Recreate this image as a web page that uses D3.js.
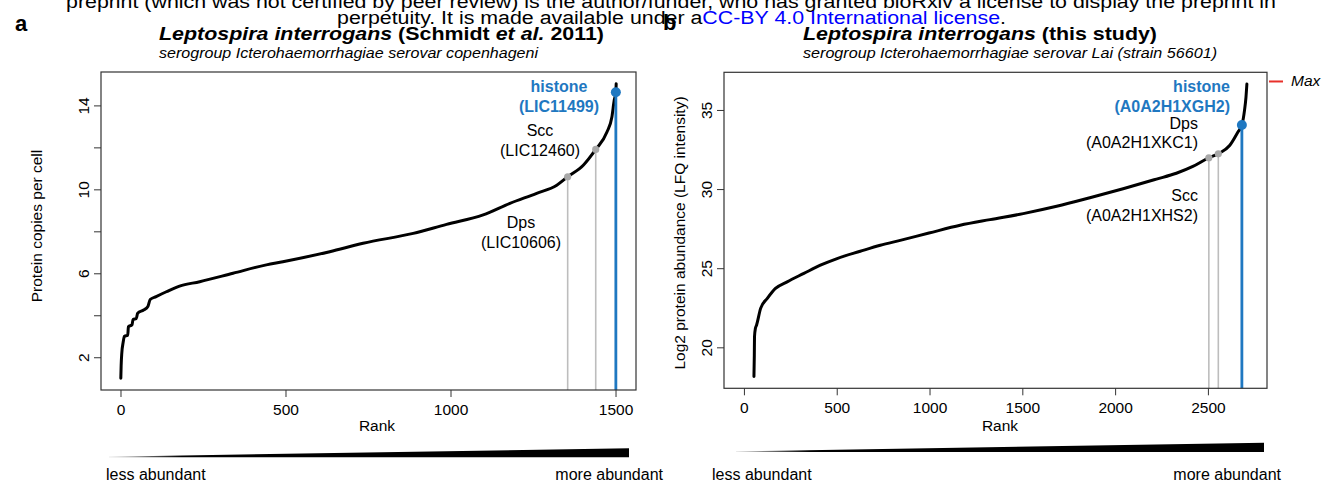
<!DOCTYPE html>
<html>
<head>
<meta charset="utf-8">
<script src="https://cdn.jsdelivr.net/npm/d3@7"></script>
<style>
  body { margin: 0; background: #fff; }
  svg { display: block; font-family: "Liberation Sans", Arial, Helvetica, sans-serif; }
</style>
</head>
<body>
<svg id="fig" width="1334" height="488"></svg>
<script>
// ---- Panel a: protein copies per cell, ranked (Schmidt et al. 2011) ----
const rankA = [1, 2, 4, 8, 12, 22, 24, 35, 38, 48, 52, 70, 83, 90, 108, 139, 179, 240, 341, 442, 492,
  634, 735, 887, 988, 1099, 1180, 1261, 1322, 1355, 1403, 1440, 1474, 1489, 1496, 1501, 1502];
const copiesA = [1.0, 1.6, 2.2, 2.7, 3.0, 3.05, 3.45, 3.55, 3.8, 3.85, 4.1, 4.25, 4.42, 4.75, 4.89, 5.12, 5.39, 5.6, 6.0, 6.4, 6.55,
  7.03, 7.43, 7.9, 8.33, 8.78, 9.33, 9.81, 10.2, 10.6, 11.16, 11.9, 12.73, 13.45, 14.24, 14.63, 15.03];
const rankRangeA = [1, 1502];
const xTicksA = [0, 500, 1000, 1500];
const yTicksA = [2, 4, 6, 8, 10, 12, 14];
const yTickLabelsA = [2, 6, 10, 14];
const markNamesA = ["Dps", "Scc", "histone"];
const markIdsA = ["(LIC10606)", "(LIC12460)", "(LIC11499)"];
const markRanksA = [1355, 1440, 1501];
const markValuesA = [10.6, 11.9, 14.63];

// ---- Panel b: log2 LFQ intensity, ranked (this study) ----
const rankB = [54, 56, 57, 62, 68, 90, 126, 170, 233, 323, 412, 502, 627, 735, 842, 997, 1165, 1326,
  1505, 1685, 1864, 2043, 2223, 2330, 2419, 2505, 2556, 2617, 2661, 2683, 2697, 2705, 2710];
const lfqB = [18.15, 19.5, 20.67, 21.2, 21.4, 22.46, 23.09, 23.72, 24.14, 24.67, 25.19, 25.61, 26.07, 26.45, 26.76, 27.22, 27.71, 28.07,
  28.45, 28.91, 29.45, 30.02, 30.63, 31.0, 31.43, 31.98, 32.23, 32.75, 33.59, 34.05, 34.96, 35.8, 36.64];
const rankRangeB = [1, 2710];
const xTicksB = [0, 500, 1000, 1500, 2000, 2500];
const yTicksB = [20, 25, 30, 35];
const yTickLabelsB = [20, 25, 30, 35];
const markNamesB = ["Scc", "Dps", "histone"];
const markIdsB = ["(A0A2H1XHS2)", "(A0A2H1XKC1)", "(A0A2H1XGH2)"];
const markRanksB = [2505, 2556, 2683];
const markValuesB = [31.98, 32.23, 34.05];
const maxMarkB = 36.8;

const noticeLine1 = "preprint (which was not certified by peer review) is the author/funder, who has granted bioRxiv a license to display the preprint in";

const BLUE = "#1f78c1";
const GREY_LINE = "#bdbdbd";
const GREY_DOT = "#a8a8a8";

const svg = d3.select("#fig");
const defs = svg.append("defs");

// Gradient used by the "less → more abundant" wedges
const grad = defs.append("linearGradient").attr("id", "wedgeFill").attr("x1", "0").attr("x2", "1").attr("y1", "0").attr("y2", "0");
grad.append("stop").attr("offset", "0").attr("stop-color", "#d8d8d8");
grad.append("stop").attr("offset", "0.14").attr("stop-color", "#000");
grad.append("stop").attr("offset", "1").attr("stop-color", "#000");

// ---- preprint notice along the top ----
const head = svg.append("g").attr("font-size", 18).attr("fill", "#000");
head.append("text").attr("x", 66).attr("y", 8)
  .attr("textLength", 1210).attr("lengthAdjust", "spacingAndGlyphs").text(noticeLine1);
const l2 = head.append("text").attr("x", 337).attr("y", 23.5)
  .attr("textLength", 669).attr("lengthAdjust", "spacingAndGlyphs");
l2.append("tspan").text("perpetuity. It is made available under a");
l2.append("tspan").attr("fill", "#0000ff").text("CC-BY 4.0 International license");
l2.append("tspan").text(".");

// panel letters
svg.append("text").attr("x", 15).attr("y", 31).attr("font-size", 22).attr("font-weight", "bold").text("a");
svg.append("text").attr("x", 663).attr("y", 30).attr("font-size", 22).attr("font-weight", "bold").text("b");

function pad([a, b]) {
  const d = (b - a) * 0.04;
  return [a - d, b + d];
}

function drawPanel(cfg) {
  const L = cfg.layout;
  const x = d3.scaleLinear().domain(pad(cfg.rankRange)).range([L.left, L.right]);
  const y = d3.scaleLinear().domain(pad(d3.extent(cfg.values))).range([L.bottom, L.top]);
  const g = svg.append("g");

  // titles
  const t = g.append("text").attr("x", L.titleX).attr("y", 40).attr("font-size", 19).attr("font-weight", "bold")
    .attr("textLength", L.titleW).attr("lengthAdjust", "spacingAndGlyphs");
  cfg.title.forEach(([s, it]) => t.append("tspan").attr("font-style", it ? "italic" : "normal").text(s));
  g.append("text").attr("x", L.titleX).attr("y", 58).attr("font-size", 14).attr("font-style", "italic")
    .attr("textLength", L.subW).attr("lengthAdjust", "spacingAndGlyphs").text(cfg.subtitle);

  // x axis
  const xa = g.append("g").attr("transform", `translate(0,${L.bottom})`)
    .call(d3.axisBottom(x).tickValues(cfg.xTicks).tickSize(7).tickFormat(d3.format("d")));
  xa.select(".domain").remove();
  xa.selectAll(".tick line").attr("stroke", "#333").attr("stroke-width", 1);
  xa.selectAll(".tick text").attr("y", 24.5).attr("dy", 0).attr("font-size", 15.5).attr("fill", "#000")
    .attr("font-family", null);

  // y axis, labels rotated in the R style
  const ya = g.append("g").attr("transform", `translate(${L.left},0)`)
    .call(d3.axisLeft(y).tickValues(cfg.yTicks).tickSize(7)
      .tickFormat(d => cfg.yTickLabels.includes(d) ? String(d) : ""));
  ya.select(".domain").remove();
  ya.selectAll(".tick line").attr("stroke", "#333").attr("stroke-width", 1);
  ya.selectAll(".tick text").attr("transform", "rotate(-90)").attr("x", 0).attr("y", -12).attr("dy", 0)
    .attr("text-anchor", "middle").attr("font-size", 15.5).attr("fill", "#000").attr("font-family", null);

  // axis titles
  g.append("text").attr("x", L.rankX).attr("y", 431).attr("text-anchor", "middle").attr("font-size", 15.5).text("Rank");
  g.append("text").attr("transform", `translate(${L.yLabX},${L.yLabY}) rotate(-90)`)
    .attr("text-anchor", "middle").attr("font-size", 15.5).text(cfg.yLabel);

  // ranked abundance curve
  const pts = cfg.ranks.map((r, i) => [r, cfg.values[i]]);
  g.append("path").datum(pts)
    .attr("d", d3.line().curve(d3.curveMonotoneX).x(d => x(d[0])).y(d => y(d[1])))
    .attr("fill", "none").attr("stroke", "#000").attr("stroke-width", 3)
    .attr("stroke-linejoin", "round").attr("stroke-linecap", "round");

  // highlighted proteins: drop lines and dots
  cfg.markRanks.forEach((r, i) => {
    const hist = cfg.markNames[i] === "histone";
    g.append("line").attr("x1", x(r)).attr("x2", x(r)).attr("y1", L.bottom).attr("y2", y(cfg.markValues[i]))
      .attr("stroke", hist ? BLUE : GREY_LINE).attr("stroke-width", hist ? 2.8 : 1.6);
  });
  cfg.markRanks.forEach((r, i) => {
    const hist = cfg.markNames[i] === "histone";
    g.append("circle").attr("cx", x(r)).attr("cy", y(cfg.markValues[i])).attr("r", hist ? 5 : 3.6)
      .attr("fill", hist ? BLUE : GREY_DOT);
  });

  // labels for highlighted proteins
  cfg.markNames.forEach((name, i) => {
    const p = L.labels[name];
    const hist = name === "histone";
    const lt = g.append("text").attr("text-anchor", p.anchor).attr("font-size", 16)
      .attr("fill", hist ? BLUE : "#000").attr("font-weight", hist ? "bold" : "normal");
    lt.append("tspan").attr("x", p.x).attr("y", p.y).text(name);
    lt.append("tspan").attr("x", p.x).attr("y", p.y + 19.5).text(cfg.markIds[i]);
  });

  // plot frame
  g.append("rect").attr("x", L.left).attr("y", L.top).attr("width", L.right - L.left).attr("height", L.bottom - L.top)
    .attr("fill", "none").attr("stroke", "#333").attr("stroke-width", 1.2);

  // abundance wedge
  const w = L.wedge;
  g.append("path")
    .attr("d", `M${w.x0},${w.base - 0.6}L${w.x1},${w.top}L${w.x1},${w.base}L${w.x0},${w.base}Z`)
    .attr("fill", "url(#wedgeFill)");
  g.append("text").attr("x", w.lessX).attr("y", 480).attr("font-size", 16).text("less abundant");
  g.append("text").attr("x", w.moreX).attr("y", 480).attr("font-size", 16).attr("text-anchor", "end").text("more abundant");

  return { x, y, g };
}

drawPanel({
  ranks: rankA, values: copiesA, rankRange: rankRangeA,
  xTicks: xTicksA, yTicks: yTicksA, yTickLabels: yTickLabelsA,
  markNames: markNamesA, markIds: markIdsA, markRanks: markRanksA, markValues: markValuesA,
  title: [["Leptospira interrogans", true], [" (Schmidt ", false], ["et al.", true], [" 2011)", false]],
  subtitle: "serogroup Icterohaemorrhagiae serovar copenhageni",
  yLabel: "Protein copies per cell",
  layout: {
    left: 101, right: 636, top: 72, bottom: 390,
    titleX: 159, titleW: 445, subW: 379,
    rankX: 377, yLabX: 42, yLabY: 226,
    labels: {
      histone: { anchor: "middle", x: 559, y: 92 },
      Scc: { anchor: "middle", x: 540, y: 136 },
      Dps: { anchor: "middle", x: 521, y: 228 }
    },
    wedge: { x0: 109, x1: 629, top: 448.3, base: 457.3, lessX: 106, moreX: 663 }
  }
});

const B = drawPanel({
  ranks: rankB, values: lfqB, rankRange: rankRangeB,
  xTicks: xTicksB, yTicks: yTicksB, yTickLabels: yTickLabelsB,
  markNames: markNamesB, markIds: markIdsB, markRanks: markRanksB, markValues: markValuesB,
  title: [["Leptospira interrogans", true], [" (this study)", false]],
  subtitle: "serogroup Icterohaemorrhagiae serovar Lai (strain 56601)",
  yLabel: "Log2 protein abundance (LFQ intensity)",
  layout: {
    left: 724, right: 1267, top: 72.3, bottom: 388.3,
    titleX: 803, titleW: 354, subW: 414,
    rankX: 1000, yLabX: 685, yLabY: 233,
    labels: {
      histone: { anchor: "end", x: 1230, y: 92 },
      Dps: { anchor: "end", x: 1198, y: 128.5 },
      Scc: { anchor: "end", x: 1198, y: 201 }
    },
    wedge: { x0: 736, x1: 1264, top: 442.7, base: 452, lessX: 712, moreX: 1281 }
  }
});

// "Max" marker beside panel b
B.g.append("line").attr("x1", 1269).attr("x2", 1283).attr("y1", B.y(maxMarkB)).attr("y2", B.y(maxMarkB))
  .attr("stroke", "#e8302a").attr("stroke-width", 2);
B.g.append("text").attr("x", 1291).attr("y", B.y(maxMarkB) + 5).attr("font-size", 15.5)
  .attr("font-style", "italic").text("Max");
</script>
</body>
</html>
